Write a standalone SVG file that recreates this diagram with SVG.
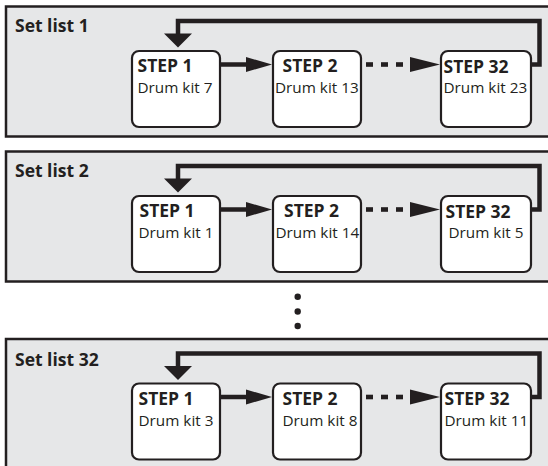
<svg xmlns="http://www.w3.org/2000/svg" width="548" height="466" viewBox="0 0 548 466">
<defs>
<style>
.panel{fill:#e6e7e8;stroke:#231f20;stroke-width:2.5}
.box{fill:#ffffff;stroke:#231f20;stroke-width:2.2}
.title{font-family:"Open Sans","Noto Sans",sans-serif;font-weight:bold;font-size:17.5px;fill:#231f20}
.step{font-family:"Open Sans","Noto Sans",sans-serif;font-weight:bold;font-size:17.5px;fill:#231f20}
.kit{font-family:"Open Sans","Noto Sans",sans-serif;font-size:15.3px;fill:#231f20}
.ln{fill:none;stroke:#231f20;stroke-width:4.5}
.hd{fill:#231f20}
.dot{fill:#231f20}
</style>
<g id="connectors-template">
<path class="ln" d="M221,64.5 H248"/>
<polygon class="hd" points="246,57 272,64.5 246,72"/>
<rect class="hd" x="366" y="62.2" width="7" height="4.6"/>
<rect class="hd" x="381" y="62.2" width="7" height="4.6"/>
<rect class="hd" x="396" y="62.2" width="7" height="4.6"/>
<polygon class="hd" points="410,57 440,64.5 410,72"/>
<path class="ln" d="M531,64.5 H539.5 V21 H178 V35"/>
<polygon class="hd" points="164,33.5 192,33.5 178,47.5"/>
</g>
</defs>

<!-- Set list 1 -->
<g id="setlist1">
<rect class="panel" x="6" y="6.5" width="560" height="130"/>
<text class="title" x="15" y="31.7">Set list 1</text>
<g id="s1-step1"><rect class="box" x="132" y="51" width="88" height="76" rx="7"/><text class="step" x="137.5" y="72">STEP 1</text><text class="kit" x="137.5" y="93">Drum kit 7</text></g>
<g id="s1-step2"><rect class="box" x="273" y="51" width="88" height="76" rx="7"/><text class="step" x="282.5" y="72">STEP 2</text><text class="kit" x="275" y="93">Drum kit 13</text></g>
<g id="s1-step32"><rect class="box" x="441" y="51" width="90" height="76" rx="7"/><text class="step" x="443.5" y="72.5">STEP 32</text><text class="kit" x="443.5" y="93">Drum kit 23</text></g>
</g>

<!-- Set list 2 -->
<g id="setlist2" transform="translate(0,145)">
<rect class="panel" x="6" y="6.5" width="560" height="130"/>
<text class="title" x="15" y="31.7">Set list 2</text>
<g id="s2-step1"><rect class="box" x="132" y="51" width="88" height="76" rx="7"/><text class="step" x="139.5" y="72">STEP 1</text><text class="kit" x="138.5" y="93">Drum kit 1</text></g>
<g id="s2-step2"><rect class="box" x="273" y="51" width="88" height="76" rx="7"/><text class="step" x="284" y="72">STEP 2</text><text class="kit" x="275.5" y="93">Drum kit 14</text></g>
<g id="s2-step32"><rect class="box" x="441" y="51" width="90" height="76" rx="7"/><text class="step" x="445.5" y="72.5">STEP 32</text><text class="kit" x="448.5" y="93">Drum kit 5</text></g>
</g>

<!-- dots -->
<g id="ellipsis">
<circle class="dot" cx="297.7" cy="296.7" r="3.2"/>
<circle class="dot" cx="297.7" cy="311.5" r="3.2"/>
<circle class="dot" cx="297.7" cy="326" r="3.2"/>
</g>

<!-- Set list 32 -->
<g id="setlist32" transform="translate(0,332.5)">
<rect class="panel" x="6" y="6.5" width="560" height="140"/>
<text class="title" x="15" y="33">Set list 32</text>
<g id="s32-step1"><rect class="box" x="132" y="51" width="88" height="76" rx="7"/><text class="step" x="138.5" y="72">STEP 1</text><text class="kit" x="138.5" y="93">Drum kit 3</text></g>
<g id="s32-step2"><rect class="box" x="273" y="51" width="88" height="76" rx="7"/><text class="step" x="282.5" y="72">STEP 2</text><text class="kit" x="282.5" y="93">Drum kit 8</text></g>
<g id="s32-step32"><rect class="box" x="441" y="51" width="90" height="76" rx="7"/><text class="step" x="444.5" y="72.5">STEP 32</text><text class="kit" x="444.5" y="93">Drum kit 11</text></g>
</g>

<g id="connectors">
<use href="#connectors-template"/>
<use href="#connectors-template" transform="translate(0,145)"/>
<use href="#connectors-template" transform="translate(0,332.5)"/>
</g>
</svg>
